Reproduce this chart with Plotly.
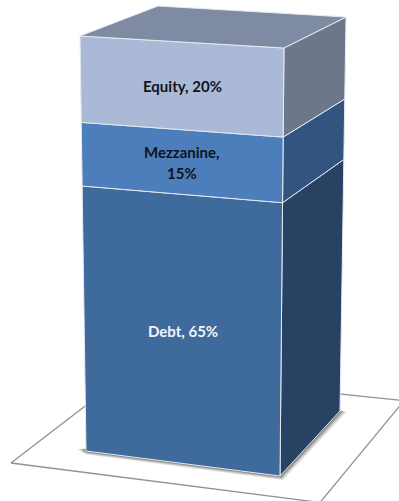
import plotly.graph_objects as go

# Capital structure, bottom to top of the stack
segments = ["Debt", "Mezzanine", "Equity"]
shares = [65, 15, 20]

front_colors = ["#3F6A9C", "#4C7EBC", "#AAB9D6"]
side_colors = ["#294264", "#32547E", "#6C778A"]
top_color = "#7E8BA3"
label_colors = ["#F2F4F8", "#10141C", "#10141C"]
label_lines = [["Debt, 65%"], ["Mezzanine,", "15%"], ["Equity, 20%"]]

WIDTH, HEIGHT = 399, 501
EDGE = "#E6EAF1"

# Camera projection of the column: screen position of each vertical edge at 0% and 100%
EDGES = {
    "fl": ((86, 451), (80, 36)),
    "fr": ((280, 476), (284, 48)),
    "br": ((340, 411), (346, 17)),
}
BACK_LEFT_TOP = (158, 6)
DEPTH_WEIGHT = 0.951  # perspective foreshortening between base and top


def project(edge, value):
    """Screen position of a stack value on one vertical edge of the column."""
    (x0, y0), (x1, y1) = EDGES[edge]
    t = value / sum(shares)
    w = (1 - t) + DEPTH_WEIGHT * t
    return (
        (x0 * (1 - t) + DEPTH_WEIGHT * x1 * t) / w,
        (y0 * (1 - t) + DEPTH_WEIGHT * y1 * t) / w,
    )


def polygon(points, fill, line=None, line_width=1.0):
    xs = [p[0] for p in points] + [points[0][0]]
    ys = [p[1] for p in points] + [points[0][1]]
    return go.Scatter(
        x=xs, y=ys, mode="lines", fill="toself", fillcolor=fill,
        line=dict(color=line or "rgba(0,0,0,0)", width=line_width),
        hoverinfo="skip", showlegend=False,
    )


fig = go.Figure()

# Floor plane under the column
floor = [(11, 463), (129.5, 372), (404, 400.6), (320, 502.5)]
fig.add_trace(polygon(floor, "#FFFFFF", "#929292", 1.3))

# Soft contact shadow, widening outward in thin layers
base_fl, base_fr, base_br = project("fl", 0), project("fr", 0), project("br", 0)
for spread, alpha in [(6.0, 0.12), (4.5, 0.20), (3.0, 0.30), (1.5, 0.40)]:
    fig.add_trace(polygon([
        (base_fl[0] - spread * 1.5, base_fl[1] - 1.5),
        (base_fl[0], base_fl[1] + spread * 0.6),
        (base_fr[0] + spread * 0.5, base_fr[1] + spread * 0.7),
        (base_br[0] + spread * 1.2, base_br[1] - 0.5 + spread * 0.2),
        base_br,
    ], f"rgba(70,70,70,{alpha})"))

# Stacked faces, built from the cumulative shares
level = 0
for i, share in enumerate(shares):
    low, high = level, level + share
    fig.add_trace(polygon(
        [project("fr", low), project("br", low), project("br", high), project("fr", high)],
        side_colors[i], EDGE, 1.0))
    fig.add_trace(polygon(
        [project("fl", low), project("fr", low), project("fr", high), project("fl", high)],
        front_colors[i], EDGE, 1.0))
    level = high

total = sum(shares)
fig.add_trace(polygon(
    [project("fl", total), BACK_LEFT_TOP, project("br", total), project("fr", total)],
    top_color, EDGE, 1.0))

# Segment labels centred on each front face
annotations = []
level = 0
for i, share in enumerate(shares):
    mid = level + share / 2
    left, right = project("fl", mid), project("fr", mid)
    cx, cy = (left[0] + right[0]) / 2, (left[1] + right[1]) / 2
    lines = label_lines[i]
    for n, text in enumerate(lines):
        annotations.append(dict(
            x=cx, y=cy, xref="x", yref="y", text=f"<b>{text}</b>", showarrow=False,
            yshift=-(n - (len(lines) - 1) / 2) * 21,
            font=dict(family="Lato", size=15, color=label_colors[i]),
        ))
    level += share

fig.update_layout(
    width=WIDTH, height=HEIGHT,
    margin=dict(l=0, r=0, t=0, b=0),
    paper_bgcolor="#FFFFFF", plot_bgcolor="#FFFFFF",
    showlegend=False,
    xaxis=dict(range=[0, WIDTH], visible=False, fixedrange=True),
    yaxis=dict(range=[HEIGHT, 0], visible=False, fixedrange=True),
    annotations=annotations,
)

fig.write_html("out.html", config={"displayModeBar": False})
